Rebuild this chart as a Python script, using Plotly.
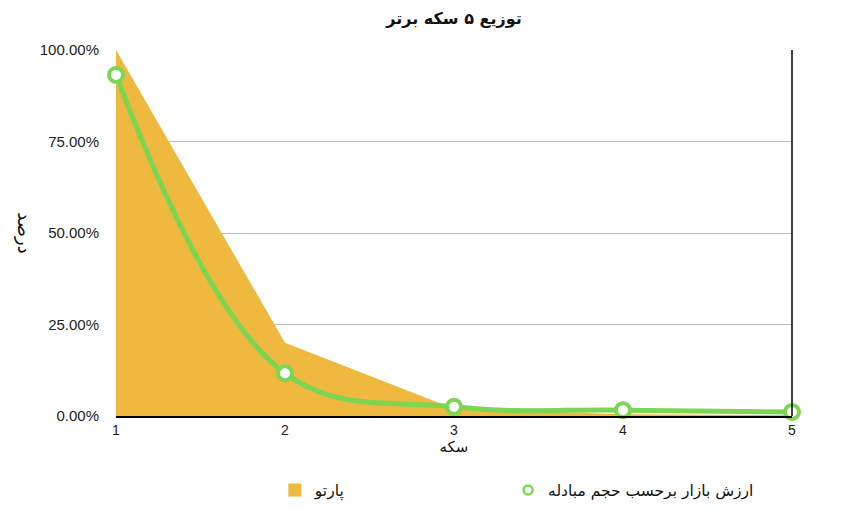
import plotly.graph_objects as go

# data
coins = [1, 2, 3, 4, 5]
pareto = [1.00, 0.20, 0.02, 0.005, 0.002]
market_share = [0.932, 0.117, 0.025, 0.016, 0.011]
y_ticks = [0, 0.25, 0.5, 0.75, 1.0]

orange = "#EFB83F"
green = "#7CD652"
ar_font = "DejaVu Sans"

fig = go.Figure()

# pareto area
fig.add_trace(go.Scatter(
    x=coins, y=pareto, name="پارتو",
    mode="lines", line=dict(width=0, color=orange),
    fill="tozeroy", fillcolor=orange, showlegend=False,
))

# market value by volume (smooth line with open circles)
fig.add_trace(go.Scatter(
    x=coins, y=market_share, name="ارزش بازار برحسب حجم مبادله",
    mode="lines+markers", line=dict(color=green, width=5, shape="spline", smoothing=1.1),
    marker=dict(size=14, color="white", line=dict(color=green, width=4)),
    showlegend=False, cliponaxis=False,
))

# legend entries (symbols only), one legend each so they can be placed apart
fig.add_trace(go.Scatter(
    x=[None], y=[None], name="پارتو", legend="legend",
    mode="markers", marker=dict(size=13, symbol="square", color=orange),
))
fig.add_trace(go.Scatter(
    x=[None], y=[None], name="ارزش بازار برحسب حجم مبادله", legend="legend2",
    mode="markers", marker=dict(size=9, color="white", line=dict(color=green, width=2.5)),
))

leg_font = dict(family=ar_font, size=15.5, color="#111")

fig.update_layout(
    width=850, height=510,
    paper_bgcolor="white", plot_bgcolor="white",
    margin=dict(l=108, r=66, t=42, b=101),
    font=dict(family="Liberation Sans, Arial", size=15, color="#222"),
    title=dict(text="<b>توزیع ۵ سکه برتر</b>", x=0.5, xref="paper", xanchor="center", y=0.99,
               font=dict(family=ar_font, size=16, color="#111")),
    xaxis=dict(range=[1, 5], tickvals=coins, showgrid=False,
               showline=True, linecolor="black", linewidth=1.5,
               ticks="", zeroline=False, tickfont=dict(size=14),
               title=dict(text="سکه", font=dict(family=ar_font, size=15, color="#111"), standoff=4)),
    yaxis=dict(range=[0, 1], tickvals=y_ticks, tickformat=".2%",
               showgrid=True, gridcolor="#bdbdbd", gridwidth=1.2,
               showline=False, zeroline=False, ticks="", ticklabelstandoff=16),
    legend=dict(orientation="h", x=0.235, y=-0.2, xanchor="left", yanchor="middle",
                font=leg_font),
    legend2=dict(orientation="h", x=0.58, y=-0.2, xanchor="left", yanchor="middle",
                 font=leg_font),
    annotations=[dict(text="درصد", xref="paper", yref="paper", x=-0.135, y=0.5,
                      xanchor="center", yanchor="middle", textangle=90, showarrow=False,
                      font=dict(family=ar_font, size=18, color="#111"))],
    shapes=[dict(type="line", xref="paper", yref="paper", x0=1, x1=1, y0=0, y1=1,
                 line=dict(color="black", width=1.5))],
)

fig.write_html("out.html")
